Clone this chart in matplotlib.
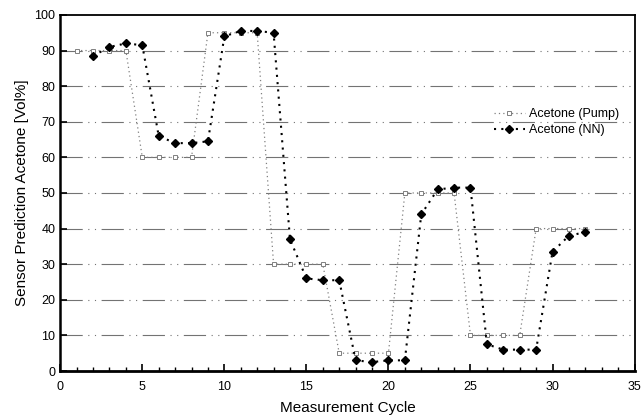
import matplotlib
matplotlib.use("Agg")
import matplotlib.pyplot as plt
from matplotlib.ticker import MultipleLocator

plt.rcParams['font.family'] = ['Liberation Sans', 'DejaVu Sans']

# pump set values
cycle_pump = list(range(1, 33))
acetone_pump = [90, 90, 90, 90, 60, 60, 60, 60, 95, 95, 95, 95,
                30, 30, 30, 30, 5, 5, 5, 5, 50, 50, 50, 50,
                10, 10, 10, 10, 40, 40, 40, 40]

# neural network prediction
cycle_nn = list(range(2, 33))
acetone_nn = [88.5, 91, 92, 91.5, 66, 64, 64, 64.5, 94, 95.5, 95.5, 95,
              37, 26, 25.5, 25.5, 3, 2.5, 3, 3, 44, 51, 51.5, 51.5,
              7.5, 6, 6, 6, 33.5, 38, 39]

fig = plt.figure(figsize=(6.41, 4.15), dpi=100)
ax = fig.add_axes([0.094, 0.106, 0.896, 0.858])

for yv in range(10, 100, 10):
    ax.axhline(yv, color='0.45', lw=0.8, ls=(0, (20, 5, 1, 5, 1, 5)), zorder=0)

ax.plot(cycle_pump, acetone_pump, ls=(0, (1, 2.5)), color='0.5', lw=0.9,
        marker='s', ms=3.5, mfc='white', mec='0.5', mew=0.7,
        label='Acetone (Pump)')
ax.plot(cycle_nn, acetone_nn, ls=(0, (1, 2.5)), color='black', lw=1.5,
        marker='D', ms=4.5, mfc='black', mec='black',
        label='Acetone (NN)')

ax.set_xlim(0, 35)
ax.set_ylim(0, 100)
ax.xaxis.set_major_locator(MultipleLocator(5))
ax.xaxis.set_minor_locator(MultipleLocator(1))
ax.yaxis.set_major_locator(MultipleLocator(10))
ax.tick_params(direction='in', labelsize=9, width=1.2, length=5)
ax.tick_params(which='minor', direction='in', width=1, length=3)
ax.tick_params(axis='x', pad=7)

for s in ax.spines.values():
    s.set_linewidth(1.3)
ax.spines['bottom'].set_linewidth(2)
ax.spines['left'].set_linewidth(1.8)

ax.set_xlabel('Measurement Cycle', fontsize=11, labelpad=6)
ax.set_ylabel('Sensor Prediction Acetone [Vol%]', fontsize=11)

ax.legend(loc='upper left', bbox_to_anchor=(0.735, 0.77), frameon=False,
          fontsize=9, handlelength=2.5, handletextpad=0.3, labelspacing=0.35)

fig.savefig('out.png', dpi=100)
